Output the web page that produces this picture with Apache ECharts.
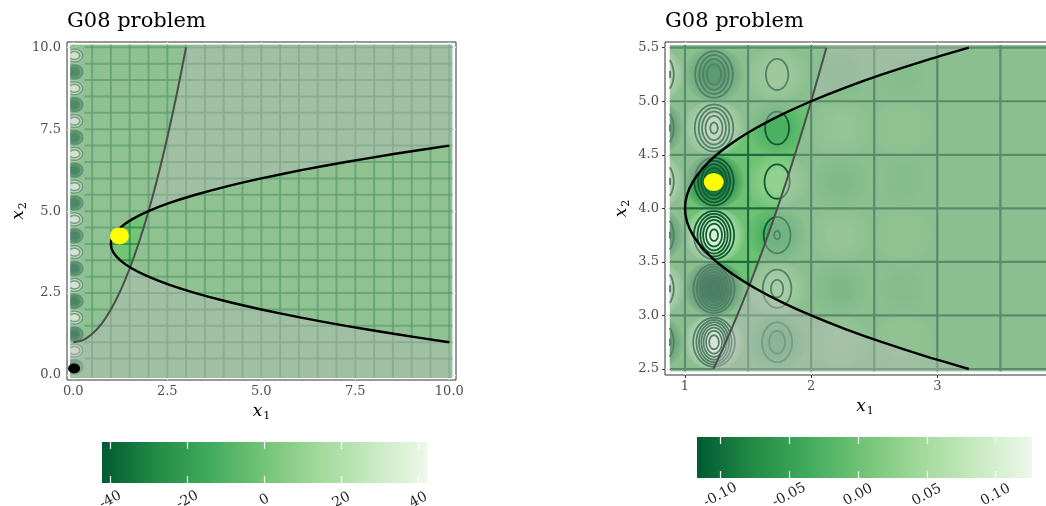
<!DOCTYPE html>
<html><head><meta charset="utf-8">
<script src="https://cdn.jsdelivr.net/npm/echarts@6/dist/echarts.min.js"></script>
<style>html,body{margin:0;padding:0;background:#fff}#c{width:1046px;height:506px}</style>
</head><body><div id="c"></div>
<script>
// ---------------- data ----------------
const greens = ['#005a32','#238b45','#41ab5d','#74c476','#a1d99b','#c7e9c0','#edf8e9'];
const leftTicks = [0, 2.5, 5, 7.5, 10];
const rightXTicks = [1, 2, 3];
const rightYTicks = [2.5, 3, 3.5, 4, 4.5, 5, 5.5];
const leftBarTicks = [-40, -20, 0, 20, 40];
const rightBarTicks = [-0.10, -0.05, 0, 0.05, 0.10];
const leftBarRange = [-42.2, 42.2];
const rightBarRange = [-0.117, 0.1265];
// raster extent: [x1min, x2min, value, x1max, x2max]
const leftRaster = [-0.08, -0.09, 0, 10.08, 10.08];
const rightRaster = [0.88, 2.48, 0, 4.1, 5.525];
// zero-level contour positions
const leftContourX1 = [0.5,1,1.5,2,2.5,3,3.5,4,4.5,5,5.5,6,6.5,7,7.5,8,8.5,9,9.5,10];
const leftContourX2 = [0.5,1,1.5,2,2.5,3,3.5,4,4.5,5,5.5,6,6.5,7,7.5,8,8.5,9,9.5,10];
const rightContourX1 = [1,1.5,2,2.5,3,3.5,4];
const rightContourX2 = [2.5,3,3.5,4,4.5,5,5.5];
// extreme cells along the left edge of the left panel
const leftBlobX1 = 0.03;
const leftBlobX2 = [0.25,0.75,1.25,1.75,2.25,2.75,3.25,3.75,4.25,4.75,5.25,5.75,6.25,6.75,7.25,7.75,8.25,8.75,9.25,9.75];
const leftBlobValues = [-41,41,-41,41,-40,40,-40,40,-40,40,-39,39,-39,39,-38,38,-38,38,-37,37];
// extreme cells of the right panel
const rightBlobX1 = [0.75, 1.23, 1.73, 2.23, 2.73];
const rightBlobX2 = [5.25, 4.75, 4.25, 3.75, 3.25, 2.75];
const rightBlobValues = [
  [0.11, -0.11, 0.11, -0.11, 0.11, -0.11],
  [-0.080, 0.087, -0.095, 0.105, -0.117, 0.126],
  [0.027, -0.029, 0.031, -0.034, 0.038, -0.042],
  [-0.012, 0.013, -0.014, 0.015, -0.016, 0.016],
  [-0.006, 0.006, -0.007, 0.007, -0.008, 0.008]
];
// constraint curves
const g1Left = [[0,1],[0.25,1.06],[0.5,1.25],[0.75,1.56],[1,2],[1.25,2.56],[1.5,3.25],[1.75,4.06],[2,5],[2.25,6.06],[2.5,7.25],[2.75,8.56],[3,10]];
const g2Left = [[10,1],[8.56,1.25],[7.25,1.5],[6.06,1.75],[5,2],[4.06,2.25],[3.25,2.5],[2.56,2.75],[2,3],[1.56,3.25],[1.25,3.5],[1.06,3.75],[1,4],[1.06,4.25],[1.25,4.5],[1.56,4.75],[2,5],[2.56,5.25],[3.25,5.5],[4.06,5.75],[5,6],[6.06,6.25],[7.25,6.5],[8.56,6.75],[10,7]];
const g1Right = [[1.225,2.5],[1.3,2.69],[1.4,2.96],[1.5,3.25],[1.6,3.56],[1.7,3.89],[1.8,4.24],[1.9,4.61],[2,5],[2.121,5.5]];
const g2Right = [[3.25,2.5],[2.891,2.625],[2.563,2.75],[2.266,2.875],[2,3],[1.766,3.125],[1.563,3.25],[1.391,3.375],[1.25,3.5],[1.141,3.625],[1.063,3.75],[1.016,3.875],[1,4],[1.016,4.125],[1.063,4.25],[1.141,4.375],[1.25,4.5],[1.391,4.625],[1.563,4.75],[1.766,4.875],[2,5],[2.266,5.125],[2.563,5.25],[2.891,5.375],[3.25,5.5]];
const optimum = [1.2279, 4.2453];
const startPoint = [0.02, 0.2];

// ---------------- drawing ----------------
const FONT = 'DejaVu Serif';
const chart = echarts.init(document.getElementById('c'), null, {renderer: 'canvas'});

function ellipsePts(c, rx, ry, n) {
  const pts = [];
  for (let i = 0; i < n; i++) {
    const t = Math.PI + 2 * Math.PI * i / n;
    pts.push([c[0] + rx * Math.cos(t), c[1] + ry * Math.sin(t)]);
  }
  return pts;
}
function rasterRender(params, api) {
  const p0 = api.coord([api.value(0), api.value(4)]);
  const p1 = api.coord([api.value(3), api.value(1)]);
  return {type: 'rect', shape: {x: p0[0], y: p0[1], width: p1[0] - p0[0], height: p1[1] - p0[1]},
    style: {fill: api.visual('color')}};
}
function makeBlob(cfg) {
  return function (params, api) {
    const x = api.value(0), y = api.value(1), v = api.value(2);
    const c = api.visual('color');
    const cp = api.coord([x, y]);
    const edge = api.coord([cfg.edge, y])[0];
    const s = api.size([cfg.fillRx, cfg.fillRy]);
    const fillPts = ellipsePts(cp, s[0], s[1], 64).map(p => [Math.max(p[0], edge), p[1]]);
    const grad = new echarts.graphic.RadialGradient(cp[0], cp[1], Math.max(s[0], s[1]), [
      {offset: 0, color: c}, {offset: cfg.core, color: c},
      {offset: 1, color: echarts.color.modifyAlpha(c, 0)}], true);
    const children = [{type: 'polygon', shape: {points: fillPts}, style: {fill: grad}}];
    cfg.rings(v).forEach(r => {
      const rs = api.size([r[0], r[1]]);
      const pts = ellipsePts(cp, rs[0], rs[1], 80);
      const vis = pts.filter(p => p[0] >= edge);
      const st = {fill: null, stroke: cfg.ringColor, lineWidth: cfg.ringWidth};
      if (vis.length === pts.length) children.push({type: 'polygon', shape: {points: pts}, style: st});
      else if (vis.length > 1) children.push({type: 'polyline', shape: {points: vis}, style: st});
    });
    return {type: 'group', children};
  };
}
function makeLines(orient, a, b, style) {
  return function (params, api) {
    const v = api.value(0);
    const p0 = orient === 'v' ? api.coord([v, a]) : api.coord([a, v]);
    const p1 = orient === 'v' ? api.coord([v, b]) : api.coord([b, v]);
    return {type: 'line', shape: {x1: p0[0], y1: p0[1], x2: p1[0], y2: p1[1]}, style};
  };
}
function makePolygon(pts, fill) {
  return function (params, api) {
    return {type: 'polygon', shape: {points: pts.map(p => api.coord(p))}, style: {fill}};
  };
}
function barRender(params, api) {
  const p0 = api.coord([api.value(0), 1]);
  const p1 = api.coord([api.value(1), 0]);
  const stops = greens.map((c, i) => ({offset: i / (greens.length - 1), color: c}));
  return {type: 'rect', shape: {x: p0[0], y: p0[1], width: p1[0] - p0[0], height: p1[1] - p0[1]},
    style: {fill: new echarts.graphic.LinearGradient(0, 0, 1, 0, stops)}};
}

const stepRight = 0.0165;
const rightRings = v => {
  const out = [], a = Math.abs(v);
  for (let k = 1; k * stepRight < a; k++) {
    const p = k * stepRight / a;
    out.push([Math.acos(Math.cbrt(p)) / (2 * Math.PI), Math.acos(p) / (2 * Math.PI)]);
  }
  return out;
};
const leftRings = v => [[0.22, 0.2], [0.14, 0.12]];

const overlay = 'rgba(190,190,190,0.38)';
const g1LeftPoly = [[-0.08, -0.09], [-0.08, 1.0]].concat(g1Left, [[3.013, 10.08], [10.08, 10.08], [10.08, -0.09]]);
const g2LeftPoly = [[-0.08, -0.09], [10.08, -0.09], [10.08, 1.0]].concat(g2Left, [[10.08, 7.0], [10.08, 10.08], [-0.08, 10.08]]);
const g1RightPoly = [[1.217, 2.48]].concat(g1Right, [[2.127, 5.525], [4.1, 5.525], [4.1, 2.48]]);
const g2RightPoly = [[0.88, 2.48], [3.25, 2.48]].concat(g2Right, [[3.25, 5.525], [0.88, 5.525]]);

const leftBlobData = leftBlobX2.map((y, i) => [leftBlobX1, y, leftBlobValues[i]]);
const rightBlobData = [];
rightBlobX1.forEach((x, i) => rightBlobX2.forEach((y, j) => rightBlobData.push([x, y, rightBlobValues[i][j]])));

const series = [];
function add(s) { series.push(Object.assign({silent: true, animation: false}, s)); return series.length - 1; }
// left panel
const sLR = add({type: 'custom', xAxisIndex: 0, yAxisIndex: 0, z: 1, data: [leftRaster], renderItem: rasterRender});
const sLB = add({type: 'custom', xAxisIndex: 0, yAxisIndex: 0, z: 2, data: leftBlobData,
  renderItem: makeBlob({edge: -0.08, fillRx: 0.27, fillRy: 0.25, core: 0.35, rings: leftRings, ringColor: 'rgba(25,105,60,0.75)', ringWidth: 1.5})});
const leftLineStyle = {stroke: 'rgba(35,139,69,0.75)', lineWidth: 2};
add({type: 'custom', xAxisIndex: 0, yAxisIndex: 0, z: 3, data: leftContourX1.map(v => [v, v]), renderItem: makeLines('v', -0.09, 10.08, leftLineStyle)});
add({type: 'custom', xAxisIndex: 0, yAxisIndex: 0, z: 3, data: leftContourX2.map(v => [v, v]), renderItem: makeLines('h', 0.3, 10.08, leftLineStyle)});
add({type: 'custom', xAxisIndex: 0, yAxisIndex: 0, z: 4, data: [[0, 0]], renderItem: makePolygon(g1LeftPoly, overlay)});
add({type: 'custom', xAxisIndex: 0, yAxisIndex: 0, z: 4, data: [[0, 0]], renderItem: makePolygon(g2LeftPoly, overlay)});
add({type: 'line', xAxisIndex: 0, yAxisIndex: 0, z: 5, data: g1Left, symbol: 'none', smooth: 0.25, lineStyle: {color: '#4d4d4d', width: 2}});
add({type: 'line', xAxisIndex: 0, yAxisIndex: 0, z: 5, data: g2Left, symbol: 'none', smooth: 0.25, lineStyle: {color: '#000', width: 2.4}});
add({type: 'scatter', xAxisIndex: 0, yAxisIndex: 0, z: 6, data: [optimum], symbol: 'circle', symbolSize: [19, 17], itemStyle: {color: '#ffff00', opacity: 1}});
add({type: 'scatter', xAxisIndex: 0, yAxisIndex: 0, z: 6, data: [startPoint], symbol: 'circle', symbolSize: [12, 10], itemStyle: {color: '#000', opacity: 1}});
// right panel
const sRR = add({type: 'custom', xAxisIndex: 1, yAxisIndex: 1, z: 1, data: [rightRaster], renderItem: rasterRender});
const sRB = add({type: 'custom', xAxisIndex: 1, yAxisIndex: 1, z: 2, data: rightBlobData,
  renderItem: makeBlob({edge: 0.88, fillRx: 0.25, fillRy: 0.25, core: 0.3, rings: rightRings, ringColor: '#0f5c33', ringWidth: 1.8})});
const rightLineStyle = {stroke: '#1f6b40', lineWidth: 2.2};
add({type: 'custom', xAxisIndex: 1, yAxisIndex: 1, z: 3, data: rightContourX1.map(v => [v, v]), renderItem: makeLines('v', 2.48, 5.525, rightLineStyle)});
add({type: 'custom', xAxisIndex: 1, yAxisIndex: 1, z: 3, data: rightContourX2.map(v => [v, v]), renderItem: makeLines('h', 0.88, 4.1, rightLineStyle)});
add({type: 'custom', xAxisIndex: 1, yAxisIndex: 1, z: 4, data: [[0, 0]], renderItem: makePolygon(g1RightPoly, overlay)});
add({type: 'custom', xAxisIndex: 1, yAxisIndex: 1, z: 4, data: [[0, 0]], renderItem: makePolygon(g2RightPoly, overlay)});
add({type: 'line', xAxisIndex: 1, yAxisIndex: 1, z: 5, data: g1Right, symbol: 'none', smooth: 0.25, lineStyle: {color: '#4d4d4d', width: 2}});
add({type: 'line', xAxisIndex: 1, yAxisIndex: 1, z: 5, data: g2Right, symbol: 'none', smooth: 0.25, lineStyle: {color: '#000', width: 2.4}});
add({type: 'scatter', xAxisIndex: 1, yAxisIndex: 1, z: 6, data: [optimum], symbol: 'circle', symbolSize: [20, 18], itemStyle: {color: '#ffff00', opacity: 1}});
// colour bars
add({type: 'custom', xAxisIndex: 2, yAxisIndex: 2, z: 2, data: [leftBarRange], renderItem: barRender});
add({type: 'custom', xAxisIndex: 4, yAxisIndex: 3, z: 2, data: [rightBarRange], renderItem: barRender});

const richName = {
  i: {fontFamily: FONT, fontStyle: 'italic', fontSize: 17, color: '#000'},
  s: {fontFamily: FONT, fontSize: 11, color: '#000', padding: [9, 0, 0, 1]}
};
function panelAxis(gi, min, max, ticks, fmt, nameText, isY, nameGap) {
  return {
    type: 'value', gridIndex: gi, min, max,
    axisLine: {show: false},
    axisTick: {show: true, length: 3, lineStyle: {color: '#333', width: 1}, customValues: ticks},
    axisLabel: {customValues: ticks, formatter: fmt, fontFamily: FONT, fontSize: 13, color: '#4d4d4d', margin: isY ? 6 : 5},
    splitLine: {show: true, lineStyle: {color: '#ebebeb', width: 1}},
    name: nameText, nameLocation: 'middle', nameGap, nameRotate: isY ? 90 : 0,
    nameTextStyle: {fontSize: 17, rich: richName}
  };
}
function barAxis(gi, min, max, ticks, fmt, pos, withLabels) {
  return {
    type: 'value', gridIndex: gi, min, max, position: pos, z: 10,
    axisLine: {show: false},
    axisTick: {show: true, inside: true, length: 7, lineStyle: {color: '#fff', width: 1.2}, customValues: ticks},
    axisLabel: {show: withLabels, customValues: ticks, formatter: fmt, rotate: 28, align: 'center', verticalAlign: 'middle',
      margin: 17, fontFamily: FONT, fontSize: 14, color: '#1a1a1a'},
    splitLine: {show: false}
  };
}
const f1 = v => v.toFixed(1);
const option = {
  animation: false,
  backgroundColor: '#fff',
  title: [
    {text: 'G08 problem', left: 67, top: 11, padding: 0, textStyle: {fontFamily: FONT, fontSize: 21, fontWeight: 'normal', color: '#000'}},
    {text: 'G08 problem', left: 665, top: 11, padding: 0, textStyle: {fontFamily: FONT, fontSize: 21, fontWeight: 'normal', color: '#000'}}
  ],
  grid: [
    {left: 67, top: 42, width: 389, height: 338, show: true, borderColor: '#333', borderWidth: 1, backgroundColor: 'transparent', containLabel: false, outerBoundsMode: 'none'},
    {left: 665, top: 42, width: 400, height: 333, show: true, borderColor: '#333', borderWidth: 1, backgroundColor: 'transparent', containLabel: false, outerBoundsMode: 'none'},
    {left: 102, top: 442, width: 325, height: 41, containLabel: false, outerBoundsMode: 'none'},
    {left: 697, top: 437, width: 335, height: 41, containLabel: false, outerBoundsMode: 'none'}
  ],
  xAxis: [
    panelAxis(0, -0.1676, 10.178, leftTicks, f1, '{i|x}{s|1}', false, 16),
    panelAxis(1, 0.8415, 4.0123, rightXTicks, v => String(v), '{i|x}{s|1}', false, 20),
    barAxis(2, leftBarRange[0], leftBarRange[1], leftBarTicks, v => String(v), 'bottom', true),
    barAxis(2, leftBarRange[0], leftBarRange[1], leftBarTicks, v => String(v), 'top', false),
    barAxis(3, rightBarRange[0], rightBarRange[1], rightBarTicks, v => v.toFixed(2), 'bottom', true),
    barAxis(3, rightBarRange[0], rightBarRange[1], rightBarTicks, v => v.toFixed(2), 'top', false)
  ],
  yAxis: [
    panelAxis(0, -0.1526, 10.162, leftTicks, f1, '{i|x}{s|2}', true, 38),
    panelAxis(1, 2.444, 5.553, rightYTicks, f1, '{i|x}{s|2}', true, 33),
    {type: 'value', gridIndex: 2, min: 0, max: 1, show: false},
    {type: 'value', gridIndex: 3, min: 0, max: 1, show: false}
  ],
  visualMap: [
    {type: 'continuous', show: false, seriesIndex: [sLR, sLB], dimension: 2, min: leftBarRange[0], max: leftBarRange[1], inRange: {color: greens}},
    {type: 'continuous', show: false, seriesIndex: [sRR, sRB], dimension: 2, min: rightBarRange[0], max: rightBarRange[1], inRange: {color: greens}}
  ],
  series
};
chart.setOption(option);
</script>
</body></html>
